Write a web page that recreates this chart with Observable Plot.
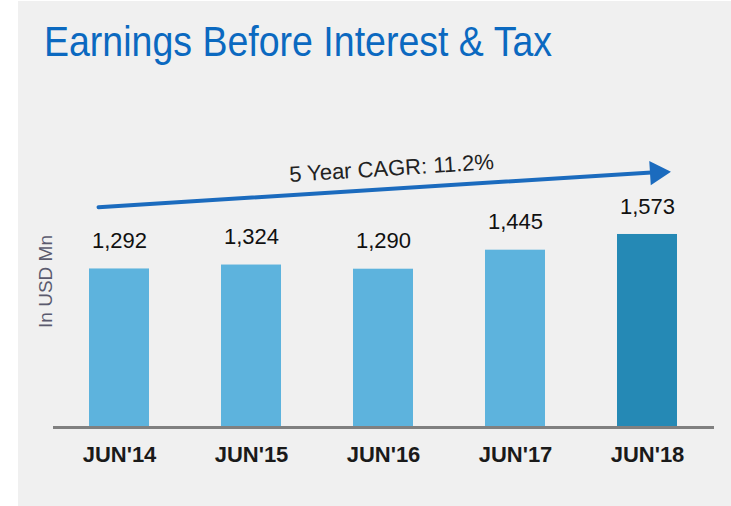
<!DOCTYPE html>
<html>
<head>
<meta charset="utf-8">
<script src="https://cdn.jsdelivr.net/npm/d3@7"></script>
<script src="https://cdn.jsdelivr.net/npm/@observablehq/plot@0.6"></script>
<style>
  html, body { margin: 0; padding: 0; background: #ffffff; width: 731px; height: 506px; overflow: hidden; }
  #panel { position: absolute; left: 18px; top: 1px; right: 0; bottom: 0; background: #f0f0f0; }
  #title { position: absolute; left: 44px; top: 21px; margin: 0; font-family: "Liberation Sans", Arial, sans-serif;
           font-size: 42px; line-height: 42px; font-weight: normal; color: #0b69c0; white-space: nowrap;
           transform-origin: 0 0; display: inline-block; }
  #chart { position: absolute; left: 0; top: 80px; }
</style>
</head>
<body>
<div id="panel"></div>
<h1 id="title">Earnings Before Interest &amp; Tax</h1>
<div id="chart"></div>
<script>
// ---- data ----
const categories = ["JUN'14", "JUN'15", "JUN'16", "JUN'17", "JUN'18"];
const values = [1292, 1324, 1290, 1445, 1573];
const valueLabels = ["1,292", "1,324", "1,290", "1,445", "1,573"];
const latestFlags = [false, false, false, false, true];
const cagrLabel = "5 Year CAGR: 11.2%";
const cagrFrom = "JUN'14";
const cagrTo = "JUN'18";
const cagrStartValue = 1806;
const cagrEndValue = 2077;
const cagrLabelAt = "JUN'16";
const cagrLabelValue = 2111;
const yAxisLabel = "In USD Mn";
const yAxisLabelValue = 1190;

// ---- table built from arrays ----
const rows = categories.map((c, i) => ({
  cat: c, value: values[i], label: valueLabels[i], group: latestFlags[i] ? "latest" : "prior"
}));
const cagr = [{from: cagrFrom, to: cagrTo, y1: cagrStartValue, y2: cagrEndValue,
               at: cagrLabelAt, ty: cagrLabelValue, label: cagrLabel}];

// fit title width
const t = document.getElementById("title");
const w = t.getBoundingClientRect().width;
t.style.transform = `scaleX(${508 / w})`;

const blue = "#1b6bbe";
const chart = Plot.plot({
  width: 731,
  height: 426,
  marginLeft: 53,
  marginRight: 17,
  marginTop: 52.5,
  marginBottom: 79,
  x: {domain: categories, paddingInner: 0.545, paddingOuter: 0.2725, label: null},
  y: {domain: [0, 2400], axis: null},
  color: {domain: ["prior", "latest"], range: ["#5db3dd", "#2589b5"]},
  style: {background: "transparent", fontFamily: "'Liberation Sans', Arial, sans-serif", fontSize: "22px", color: "#1a1a1a", overflow: "visible"},
  marks: [
    Plot.barY(rows, {x: "cat", y: "value", fill: "group"}),
    Plot.ruleY([0], {stroke: "#808080", strokeWidth: 3}),
    Plot.axisX({tickSize: 0, tickPadding: 19, fontWeight: "bold", fontSize: 22, fill: "#1a1a1a", label: null}),
    Plot.text(rows, {x: "cat", y: "value", text: "label", dy: -28, fontSize: 22, fill: "#111111"}),
    Plot.arrow(cagr, {x1: "from", y1: "y1", x2: "to", y2: "y2", stroke: blue, strokeWidth: 4, headLength: 0, insetStart: -21, insetEnd: -8}),
    Plot.dot(cagr, {x: "to", y: "y2", symbol: "triangle", r: 9, rotate: 86.4, fill: blue, stroke: "none", dx: 9.5}),
    Plot.text(cagr, {x: "at", y: "ty", text: "label", rotate: -3.6, dx: 8, fontSize: 22, fill: "#222222"}),
    Plot.text([yAxisLabel], {frameAnchor: "left", y: () => yAxisLabelValue, text: d => d, rotate: -90, textAnchor: "middle", dx: -8, fontSize: 19, fill: "#5a5a6e"})
  ]
});
document.getElementById("chart").appendChild(chart);
</script>
</body>
</html>
